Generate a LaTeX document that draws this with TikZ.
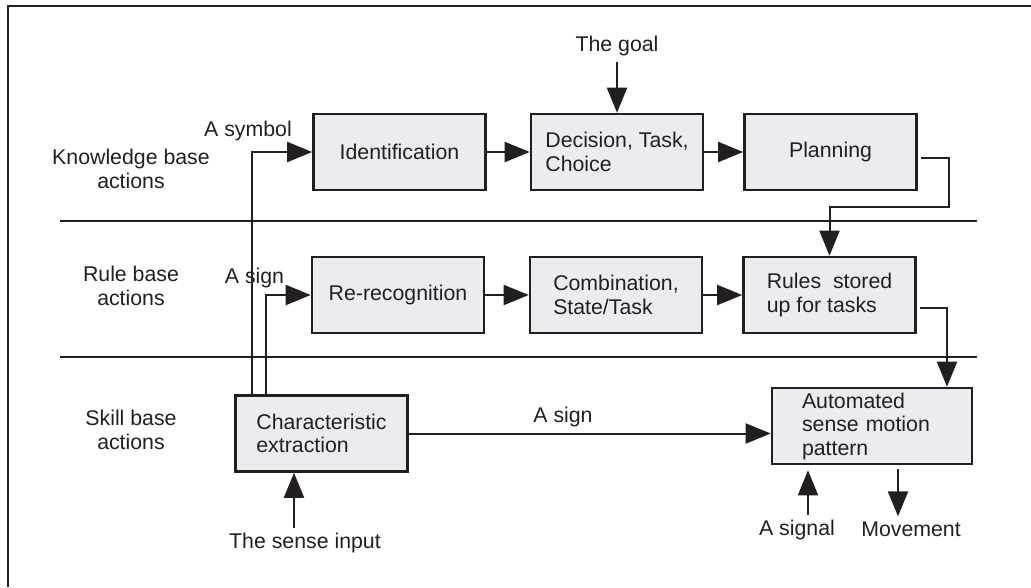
\documentclass[tikz,border=0pt]{standalone}
\usepackage{fontspec}
\setmainfont{Liberation Sans}
\usetikzlibrary{arrows.meta}
\definecolor{ink}{HTML}{231F20}
\definecolor{boxfill}{HTML}{EBECF0}
\tikzset{
  box/.style={draw=ink,fill=boxfill,line width=2.6pt,minimum width=172pt,minimum height=76pt,align=left,text=ink},
  arr/.style={draw=ink,line width=2pt,-{Triangle[length=25pt,width=20pt]}},
  lbl/.style={text=ink,align=center,inner sep=2pt}
}
\begin{document}
\begin{tikzpicture}[x=1pt,y=-1pt,font=\fontsize{21.3}{23.5}\selectfont]
\useasboundingbox (0,0) rectangle (1031,587);
\draw[ink,line width=1.6pt] (1031,6) -| (8,587);
% level separators
\draw[ink,line width=1.8pt] (60,221) -- (977,221);
\draw[ink,line width=1.8pt] (60,357) -- (977,357);
% level names
\node[lbl] (kba) at (131,169) {Knowledge base\\actions};
\node[lbl] (rba) at (131,286) {Rule base\\actions};
\node[lbl] (sba) at (131,430) {Skill base\\actions};
% boxes
\node[box] (ident) at (399.5,152) {Identification};
\node[box] (decide) at (617,152) {Decision, Task,\\Choice};
\node[box] (plan) at (830.5,152) {Planning};
\node[box] (rerec) at (398,295) {Re-recognition};
\node[box] (comb) at (616,295) {Combination,\\State/Task};
\node[box] (rules) at (829.5,295) {Rules\ \ stored\\up for tasks};
\node[box] (charx) at (321.5,433.5) {Characteristic\\extraction};
\node[box,minimum width=200pt,text width=140pt,inner xsep=30pt] (auto) at (872,426) {Automated\\sense motion\\pattern};
% free labels
\node[lbl] (sym) at (248,131) {A symbol};
\node[lbl] (sgn) at (254.5,278) {A sign};
\node[lbl] (sgnb) at (563,417) {A sign};
\node[lbl,inner sep=6pt] (goal) at (617,46) {The goal};
\node[lbl,inner sep=5pt] (sense) at (305,543) {The sense input};
\node[lbl,inner sep=5pt] (signal) at (797,530) {A signal};
\node[lbl,inner sep=5pt] (move) at (911,529) {Movement};
% connectors
\draw[arr] ([xshift=18pt]charx.north west) |- (ident.west);
\draw[arr] ([xshift=32pt]charx.north west) |- (rerec.west);
\draw[arr] (ident) -- (decide);
\draw[arr] (decide) -- (plan);
\draw[arr] (rerec) -- (comb);
\draw[arr] (comb) -- (rules);
\draw[arr] ([xshift=3pt,yshift=-6pt]plan.east) -| ++(28,49) -| (rules.north);
\draw[arr] ([xshift=3pt,yshift=-13pt]rules.east) -| ([xshift=75pt]auto.north);
\draw[arr] (charx.east) -- (charx.east -| auto.west);
\draw[arr] (goal) -- (decide);
\draw[arr] ([xshift=-11pt]sense.north) -- ([xshift=-27.5pt]charx.south);
\draw[arr] ([xshift=11pt]signal.north) -- ([xshift=-64pt,yshift=-5pt]auto.south);
\draw[arr] ([xshift=26pt,yshift=-4pt]auto.south) -- ([xshift=-13pt]move.north);
\end{tikzpicture}
\end{document}
